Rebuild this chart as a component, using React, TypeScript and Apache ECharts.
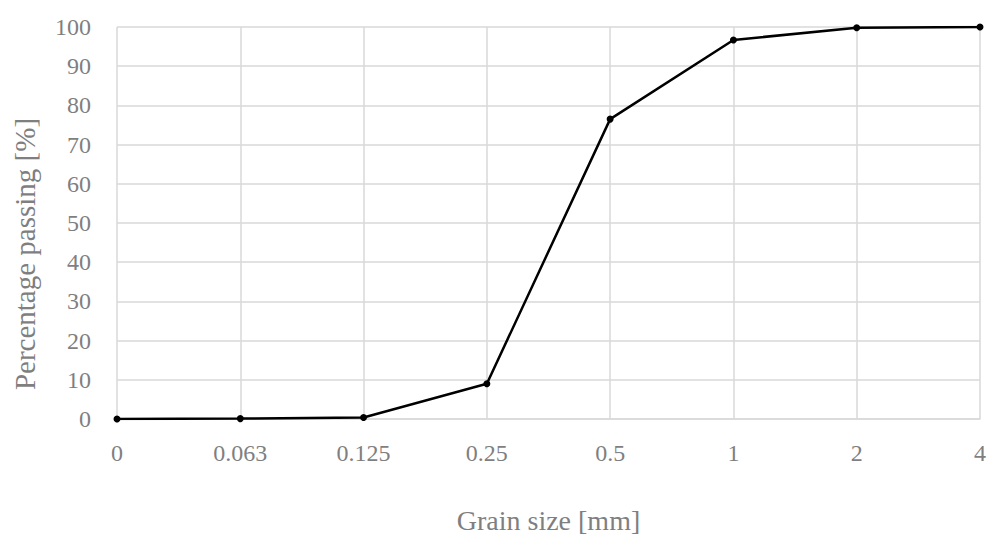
import React, { useEffect, useRef } from "react";
import * as echarts from "echarts";

const grainSizes = ["0", "0.063", "0.125", "0.25", "0.5", "1", "2", "4"];
const percentPassing = [0, 0.1, 0.4, 9.0, 76.5, 96.7, 99.8, 100];
const yTicks = { min: 0, max: 100, interval: 10 };

const FONT = "'Liberation Serif', 'DejaVu Serif', serif";
const TEXT = "#7f7f7f";
const GRID = "#d9d9d9";

export default function App() {
  const ref = useRef<HTMLDivElement>(null);
  useEffect(() => {
    if (!ref.current) return;
    const chart = echarts.init(ref.current, null, { renderer: "svg" });
    chart.setOption({
      animation: false,
      backgroundColor: "#ffffff",
      grid: {
        left: 117,
        right: 7,
        top: 27,
        bottom: 117,
        containLabel: false,
        outerBoundsMode: "none",
      },
      xAxis: {
        type: "category",
        data: grainSizes,
        boundaryGap: false,
        name: "Grain size [mm]",
        nameLocation: "middle",
        nameGap: 87,
        nameTextStyle: { color: TEXT, fontFamily: FONT, fontSize: 28 },
        axisLine: { show: true, lineStyle: { color: GRID, width: 1.5 } },
        axisTick: { show: false },
        axisLabel: { interval: 0, color: TEXT, fontFamily: FONT, fontSize: 24, margin: 22 },
        splitLine: { show: true, interval: 0, lineStyle: { color: GRID, width: 1.5 } },
      },
      yAxis: {
        type: "value",
        min: yTicks.min,
        max: yTicks.max,
        interval: yTicks.interval,
        name: "Percentage passing [%]",
        nameLocation: "middle",
        nameGap: 78,
        nameRotate: 90,
        nameTextStyle: {
          color: TEXT,
          fontFamily: FONT,
          fontSize: 29,
          padding: [0, 62, 0, 0],
        },
        axisLine: { show: false },
        axisTick: { show: false },
        axisLabel: { color: TEXT, fontFamily: FONT, fontSize: 24, margin: 26 },
        splitLine: { show: true, lineStyle: { color: GRID, width: 1.5 } },
      },
      series: [
        {
          type: "line",
          data: percentPassing,
          symbol: "circle",
          symbolSize: 7,
          showSymbol: true,
          lineStyle: { color: "#000000", width: 2.5 },
          itemStyle: { color: "#000000" },
          z: 5,
        },
      ],
    });
    return () => chart.dispose();
  }, []);
  return (
    <div
      ref={ref}
      style={{ position: "fixed", left: 0, top: 0, width: 987, height: 536, background: "#fff" }}
    />
  );
}
